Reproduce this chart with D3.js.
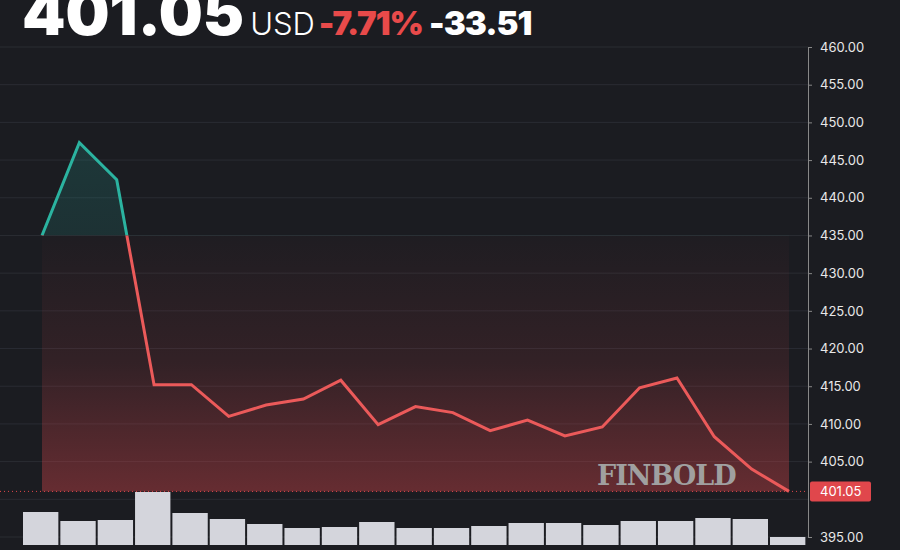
<!DOCTYPE html>
<html>
<meta charset="utf-8">
<head>
<script src="https://cdn.jsdelivr.net/npm/d3@7"></script>
<style>
  body { margin: 0; background: #1b1c21; }
  text { font-family: Inter, "Open Sans", sans-serif; }
  text.wm { font-family: "DejaVu Serif", "Liberation Serif", serif; }
</style>
</head>
<body>
<script>
var prices = [435, 447.3, 442.4, 415.2, 415.2, 411.0, 412.5, 413.3, 415.8, 409.9, 412.3, 411.5,
  409.1, 410.5, 408.4, 409.6, 414.8, 416.1, 408.3, 404.0, 401.05];
var volumes = [33, 24, 25, 53, 32, 26, 21, 17, 18, 23, 17, 17, 19, 22, 22, 20, 24, 24, 27, 26, 8];
var ticks = [395, 405, 410, 415, 420, 425, 430, 435, 440, 445, 450, 455, 460];
var last = 401.05, base = 435;

var W = 900, H = 550;
var svg = d3.select('body').append('svg').attr('width', W).attr('height', H);
svg.append('rect').attr('width', W).attr('height', H).attr('fill', '#1b1c21');

var x = d3.scaleLinear().domain([0, prices.length - 1]).range([42, 789]);
var y = d3.scaleLinear().domain([395, 460]).range([537, 47]);
var v = d3.scaleLinear().domain([0, 53]).range([545, 492]);

// grid
svg.selectAll('.grid').data(ticks.concat([400])).enter().append('line')
  .attr('x1', 0).attr('x2', 808).attr('y1', d => y(d)).attr('y2', d => y(d))
  .attr('stroke', '#2a2c33').attr('stroke-width', 1);

var defs = svg.append('defs');
var gr = defs.append('linearGradient').attr('id', 'red').attr('x1', 0).attr('x2', 0).attr('y1', 0).attr('y2', 1);
gr.append('stop').attr('offset', '0%').attr('stop-color', '#e0474c').attr('stop-opacity', 0.02);
gr.append('stop').attr('offset', '50%').attr('stop-color', '#e0474c').attr('stop-opacity', 0.12);
gr.append('stop').attr('offset', '100%').attr('stop-color', '#e0474c').attr('stop-opacity', 0.38);
var gg = defs.append('linearGradient').attr('id', 'green').attr('x1', 0).attr('x2', 0).attr('y1', 0).attr('y2', 1);
gg.append('stop').attr('offset', '0%').attr('stop-color', '#26a69a').attr('stop-opacity', 0.2);
gg.append('stop').attr('offset', '100%').attr('stop-color', '#26a69a').attr('stop-opacity', 0.03);

defs.append('clipPath').attr('id', 'above').append('rect').attr('x', 0).attr('y', 0).attr('width', W).attr('height', y(base));
defs.append('clipPath').attr('id', 'below').append('rect').attr('x', 0).attr('y', y(base)).attr('width', W).attr('height', H);

var area = d3.area().x((d, i) => x(i)).y0(y(base)).y1(d => y(d));
var line = d3.line().x((d, i) => x(i)).y(d => y(d));

svg.append('path').datum(prices).attr('d', area).attr('fill', 'url(#green)').attr('clip-path', 'url(#above)');
svg.append('rect').attr('x', x(0)).attr('width', x(prices.length - 1) - x(0))
  .attr('y', y(base)).attr('height', y(last) - y(base)).attr('fill', 'url(#red)').attr('clip-path', 'url(#below)');

// volume bars
var bw = (x(1) - x(0));
svg.selectAll('.vol').data(volumes).enter().append('rect')
  .attr('x', (d, i) => 22 + i * bw + 1).attr('width', bw - 2)
  .attr('y', d => v(d)).attr('height', d => 545 - v(d)).attr('fill', '#d4d5dc');

svg.append('path').datum(prices).attr('d', line).attr('fill', 'none').attr('stroke', '#2bb3a0')
  .attr('stroke-width', 3).attr('clip-path', 'url(#above)');
svg.append('path').datum(prices).attr('d', line).attr('fill', 'none').attr('stroke', '#eb5a5a')
  .attr('stroke-width', 3).attr('clip-path', 'url(#below)');

// last price line
svg.append('line').attr('x1', 0).attr('x2', 808).attr('y1', y(last)).attr('y2', y(last))
  .attr('stroke', '#e0474c').attr('stroke-dasharray', '1,3').attr('stroke-width', 1);

// axis
var ax = svg.append('g').attr('transform', 'translate(808,0)')
  .call(d3.axisRight(y).tickValues(ticks).tickFormat(d3.format('.2f')).tickSize(4).tickPadding(8));
ax.select('.domain').attr('stroke', '#888');
ax.selectAll('.tick line').attr('stroke', '#888');
ax.selectAll('text').attr('fill', '#e8e8e8').attr('font-size', 13);

svg.append('rect').attr('x', 810).attr('y', y(last) - 10).attr('width', 61).attr('height', 20).attr('rx', 2).attr('fill', '#e0474c');
svg.append('text').attr('x', 820).attr('y', y(last) + 5).attr('fill', '#fff').attr('font-size', 13).text(d3.format('.2f')(last));

// watermark
svg.append('text').attr('class', 'wm').attr('x', 597).attr('y', 485).attr('fill', '#a0a0a0').attr('font-size', 27)
  .attr('font-weight', 'bold').attr('letter-spacing', -1).text('FINBOLD');

// header
var hd = svg.append('text').attr('x', 22).attr('y', 35).attr('fill', '#fff');
hd.append('tspan').attr('font-size', 62).attr('font-weight', 900).text('401.05');
hd.append('tspan').attr('dx', 6).attr('font-size', 31).attr('font-weight', 300).text('USD');
hd.append('tspan').attr('dx', 4).attr('font-size', 33).attr('font-weight', 900).attr('letter-spacing', -1).attr('fill', '#e84a4a').text('-7.71%');
hd.append('tspan').attr('dx', 6).attr('font-size', 33).attr('font-weight', 900).attr('letter-spacing', -1).text('-33.51');
</script>
</body>
</html>
